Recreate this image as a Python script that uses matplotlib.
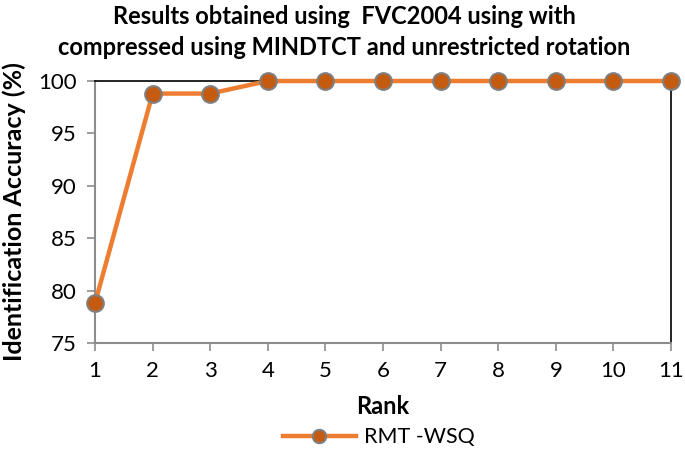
import matplotlib.pyplot as plt

plt.rcParams['font.family'] = ['Lato', 'DejaVu Sans']

rank = [1, 2, 3, 4, 5, 6, 7, 8, 9, 10, 11]
accuracy = [78.8, 98.8, 98.8, 100, 100, 100, 100, 100, 100, 100, 100]

fig = plt.figure(figsize=(6.85, 4.54), dpi=100)
ax = fig.add_axes([0.1387, 0.2445, 0.8409, 0.5771])

ax.plot(rank, accuracy, color='#ED7D31', linewidth=3.2, marker='o',
        markersize=12, markerfacecolor='#C55A11', markeredgecolor='#7F7F7F',
        markeredgewidth=1.5, label='RMT -WSQ', clip_on=False, zorder=3)

ax.set_xlim(1, 11)
ax.set_ylim(75, 100)
ax.set_xticks(rank)
ax.set_yticks([75, 80, 85, 90, 95, 100])
ax.tick_params(labelsize=16, length=6, color='#8C8C8C', width=1.2, pad=7)

for side in ['left', 'bottom']:
    ax.spines[side].set_color('#8C8C8C')
    ax.spines[side].set_linewidth(1.5)
for side in ['top', 'right']:
    ax.spines[side].set_color('black')
    ax.spines[side].set_linewidth(1.2)

ax.set_xlabel('Rank', fontsize=17, fontweight='bold', labelpad=10)
ax.set_ylabel('Identification Accuracy (%)', fontsize=18, fontweight='bold', labelpad=9)
fig.suptitle('Results obtained using  FVC2004 using with\ncompressed using MINDTCT and unrestricted rotation',
             fontsize=17, fontweight='bold', x=0.503, y=0.988, linespacing=1.38)

fig.legend(loc='center', bbox_to_anchor=(0.553, 0.037), frameon=False,
           fontsize=15.5, handlelength=3.4, markerscale=0.8, handletextpad=0.4)

fig.savefig('out.png', dpi=100)
